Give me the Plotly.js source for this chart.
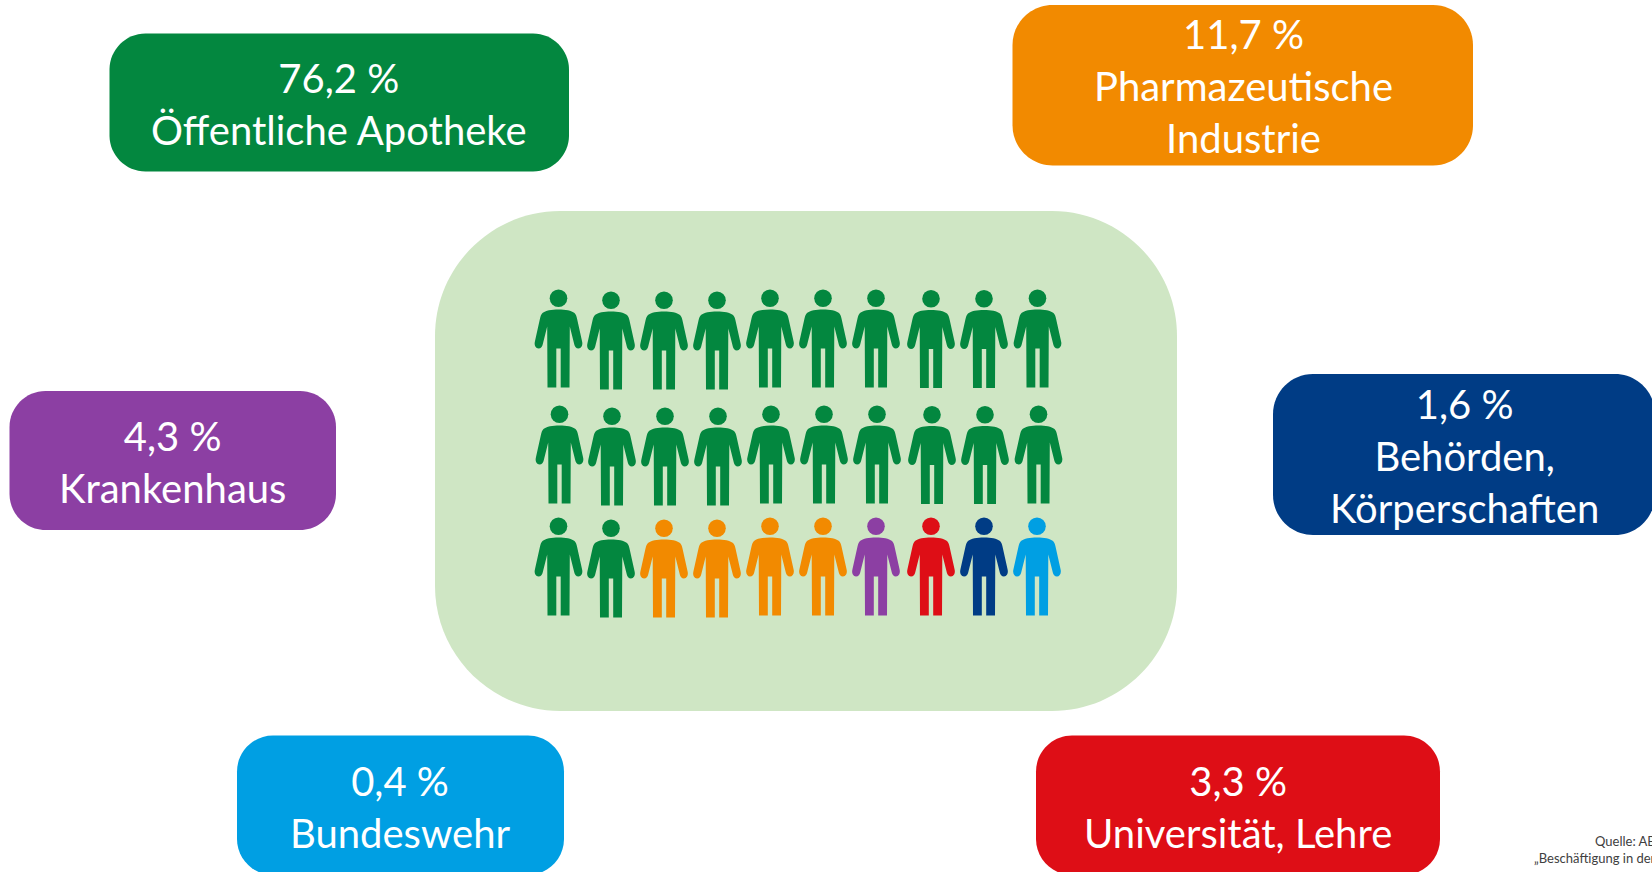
<!DOCTYPE html>
<html><head><meta charset="utf-8">
<script src="https://cdn.plot.ly/plotly-3.0.1.min.js"></script>
<style>html,body{margin:0;padding:0;background:#fff;overflow:hidden}#c{width:1652px;height:872px}</style>
</head><body><div id="c"></div>
<script>
// Categories and values
const categories = ["Öffentliche Apotheke", "Pharmazeutische<br>Industrie", "Behörden,<br>Körperschaften", "Krankenhaus", "Bundeswehr", "Universität, Lehre"];
const shares = ["76,2 %", "11,7 %", "1,6 %", "4,3 %", "0,4 %", "3,3 %"];
const colors = ["#03873F", "#F28A00", "#003C85", "#8C3FA3", "#009FE3", "#DE0E16"];
// Box geometry per category
const boxLeft = [109.5, 1012.5, 1273, 9.5, 237, 1036];
const boxRight = [569, 1473, 1655, 336, 564, 1440];
const boxTop = [33.5, 5, 374, 391, 735.5, 735.5];
const boxBottom = [171.5, 165.5, 535, 530, 875, 875];
const boxRadius = [36, 40, 40, 36, 36, 36];
const labelX = [339, 1243, 1464.5, 172.8, 400, 1238];
const labelY = [103.5, 86, 456, 462, 806.5, 806.5];
// Pictogram: people per category index, in reading order
const personCategory = [0,0,0,0,0,0,0,0,0,0, 0,0,0,0,0,0,0,0,0,0, 0,0,1,1,1,1,3,5,2,4];
const personX = [558.5,611,664,717,770,823,876,931,984,1037.5,
                 559.5,612,665,718,771,824,877,932,985,1038.5,
                 558.5,611,664,717,770,823,876,931,984,1037];
const personTop = [289.5,291.5,291.5,291.5,289.5,289.5,289.5,290,290,289.5,
                   405.5,407.5,407.5,407.5,405.5,405.5,405.5,406,406,405.5,
                   517.5,519.5,519.5,519.5,517.5,517.5,517.5,517.5,517.5,517.5];
const headRadius = 8.8;
const sourceLines = ["Quelle: ABDA", "„Beschäftigung in den"];
const sourceX = [1593, 1532];
const sourceY = [841, 858];

function roundRect(l, r, t, b, q) {
  const k = q * 0.45;
  return `M${l + q},${t} L${r - q},${t} C${r - k},${t} ${r},${t + k} ${r},${t + q} L${r},${b - q} C${r},${b - k} ${r - k},${b} ${r - q},${b} L${l + q},${b} C${l + k},${b} ${l},${b - k} ${l},${b - q} L${l},${t + q} C${l},${t + k} ${l + k},${t} ${l + q},${t} Z`;
}
function bodyPath(cx, top) {
  const X = d => (cx + d).toFixed(1), Y = d => (top + d).toFixed(1);
  const side = s => [];
  return `M${X(0)},${Y(20)} C${X(7)},${Y(20)} ${X(13)},${Y(21)} ${X(16)},${Y(23.5)} C${X(17.5)},${Y(25)} ${X(18)},${Y(27)} ${X(18.5)},${Y(29)} L${X(23.6)},${Y(52)} C${X(24.6)},${Y(56)} ${X(22.5)},${Y(59)} ${X(20)},${Y(59)} C${X(17.5)},${Y(59)} ${X(16.3)},${Y(57)} ${X(15.8)},${Y(55)} L${X(11.3)},${Y(37)} L${X(11)},${Y(98)} L${X(2.2)},${Y(98)} L${X(2.2)},${Y(59)} L${X(-2.2)},${Y(59)} L${X(-2.2)},${Y(98)} L${X(-11)},${Y(98)} L${X(-11.3)},${Y(37)} L${X(-15.8)},${Y(55)} C${X(-16.3)},${Y(57)} ${X(-17.5)},${Y(59)} ${X(-20)},${Y(59)} C${X(-22.5)},${Y(59)} ${X(-24.6)},${Y(56)} ${X(-23.6)},${Y(52)} L${X(-18.5)},${Y(29)} C${X(-18)},${Y(27)} ${X(-17.5)},${Y(25)} ${X(-16)},${Y(23.5)} C${X(-13)},${Y(21)} ${X(-7)},${Y(20)} ${X(0)},${Y(20)} Z`;
}
const shapes = [
  {type:"path", xref:"x", yref:"y", layer:"below", line:{width:0}, fillcolor:"#CFE6C4", path:roundRect(435,1177,211,711,125)},
  ...categories.map((c,i)=>({type:"path", xref:"x", yref:"y", layer:"below", line:{width:0}, fillcolor:colors[i],
    path:roundRect(boxLeft[i],boxRight[i],boxTop[i],boxBottom[i],boxRadius[i])})),
  ...personX.map((x,i)=>({type:"path", xref:"x", yref:"y", layer:"below", line:{width:0}, fillcolor:colors[personCategory[i]],
    path:bodyPath(x,personTop[i])}))
];
const annotations = [
  ...categories.map((c,i)=>({x:labelX[i], y:labelY[i], xref:"x", yref:"y", showarrow:false, xanchor:"center", yanchor:"middle", align:"center",
    text:shares[i]+"<br>"+c, font:{family:"Lato, 'Open Sans', sans-serif", size:40, color:"#FFFFFF"}})),
  ...sourceLines.map((t,i)=>({x:sourceX[i], y:sourceY[i], xref:"x", yref:"y", showarrow:false, xanchor:"left", yanchor:"middle", align:"left",
    text:t, font:{family:"Lato, sans-serif", size:13, color:"#404040"}}))
];
const heads = {type:"scatter", mode:"markers", hoverinfo:"skip", showlegend:false,
  x:personX, y:personTop.map(t=>t+headRadius),
  marker:{size:headRadius*2, color:personCategory.map(k=>colors[k]), line:{width:0}}};
Plotly.newPlot("c",[heads],{
  width:1652,height:872,margin:{l:0,r:0,t:0,b:0},paper_bgcolor:"#fff",plot_bgcolor:"#fff",showlegend:false,
  xaxis:{range:[0,1652],visible:false,fixedrange:true},
  yaxis:{range:[872,0],visible:false,fixedrange:true},
  shapes,annotations
},{displayModeBar:false,staticPlot:true});
</script></body></html>
